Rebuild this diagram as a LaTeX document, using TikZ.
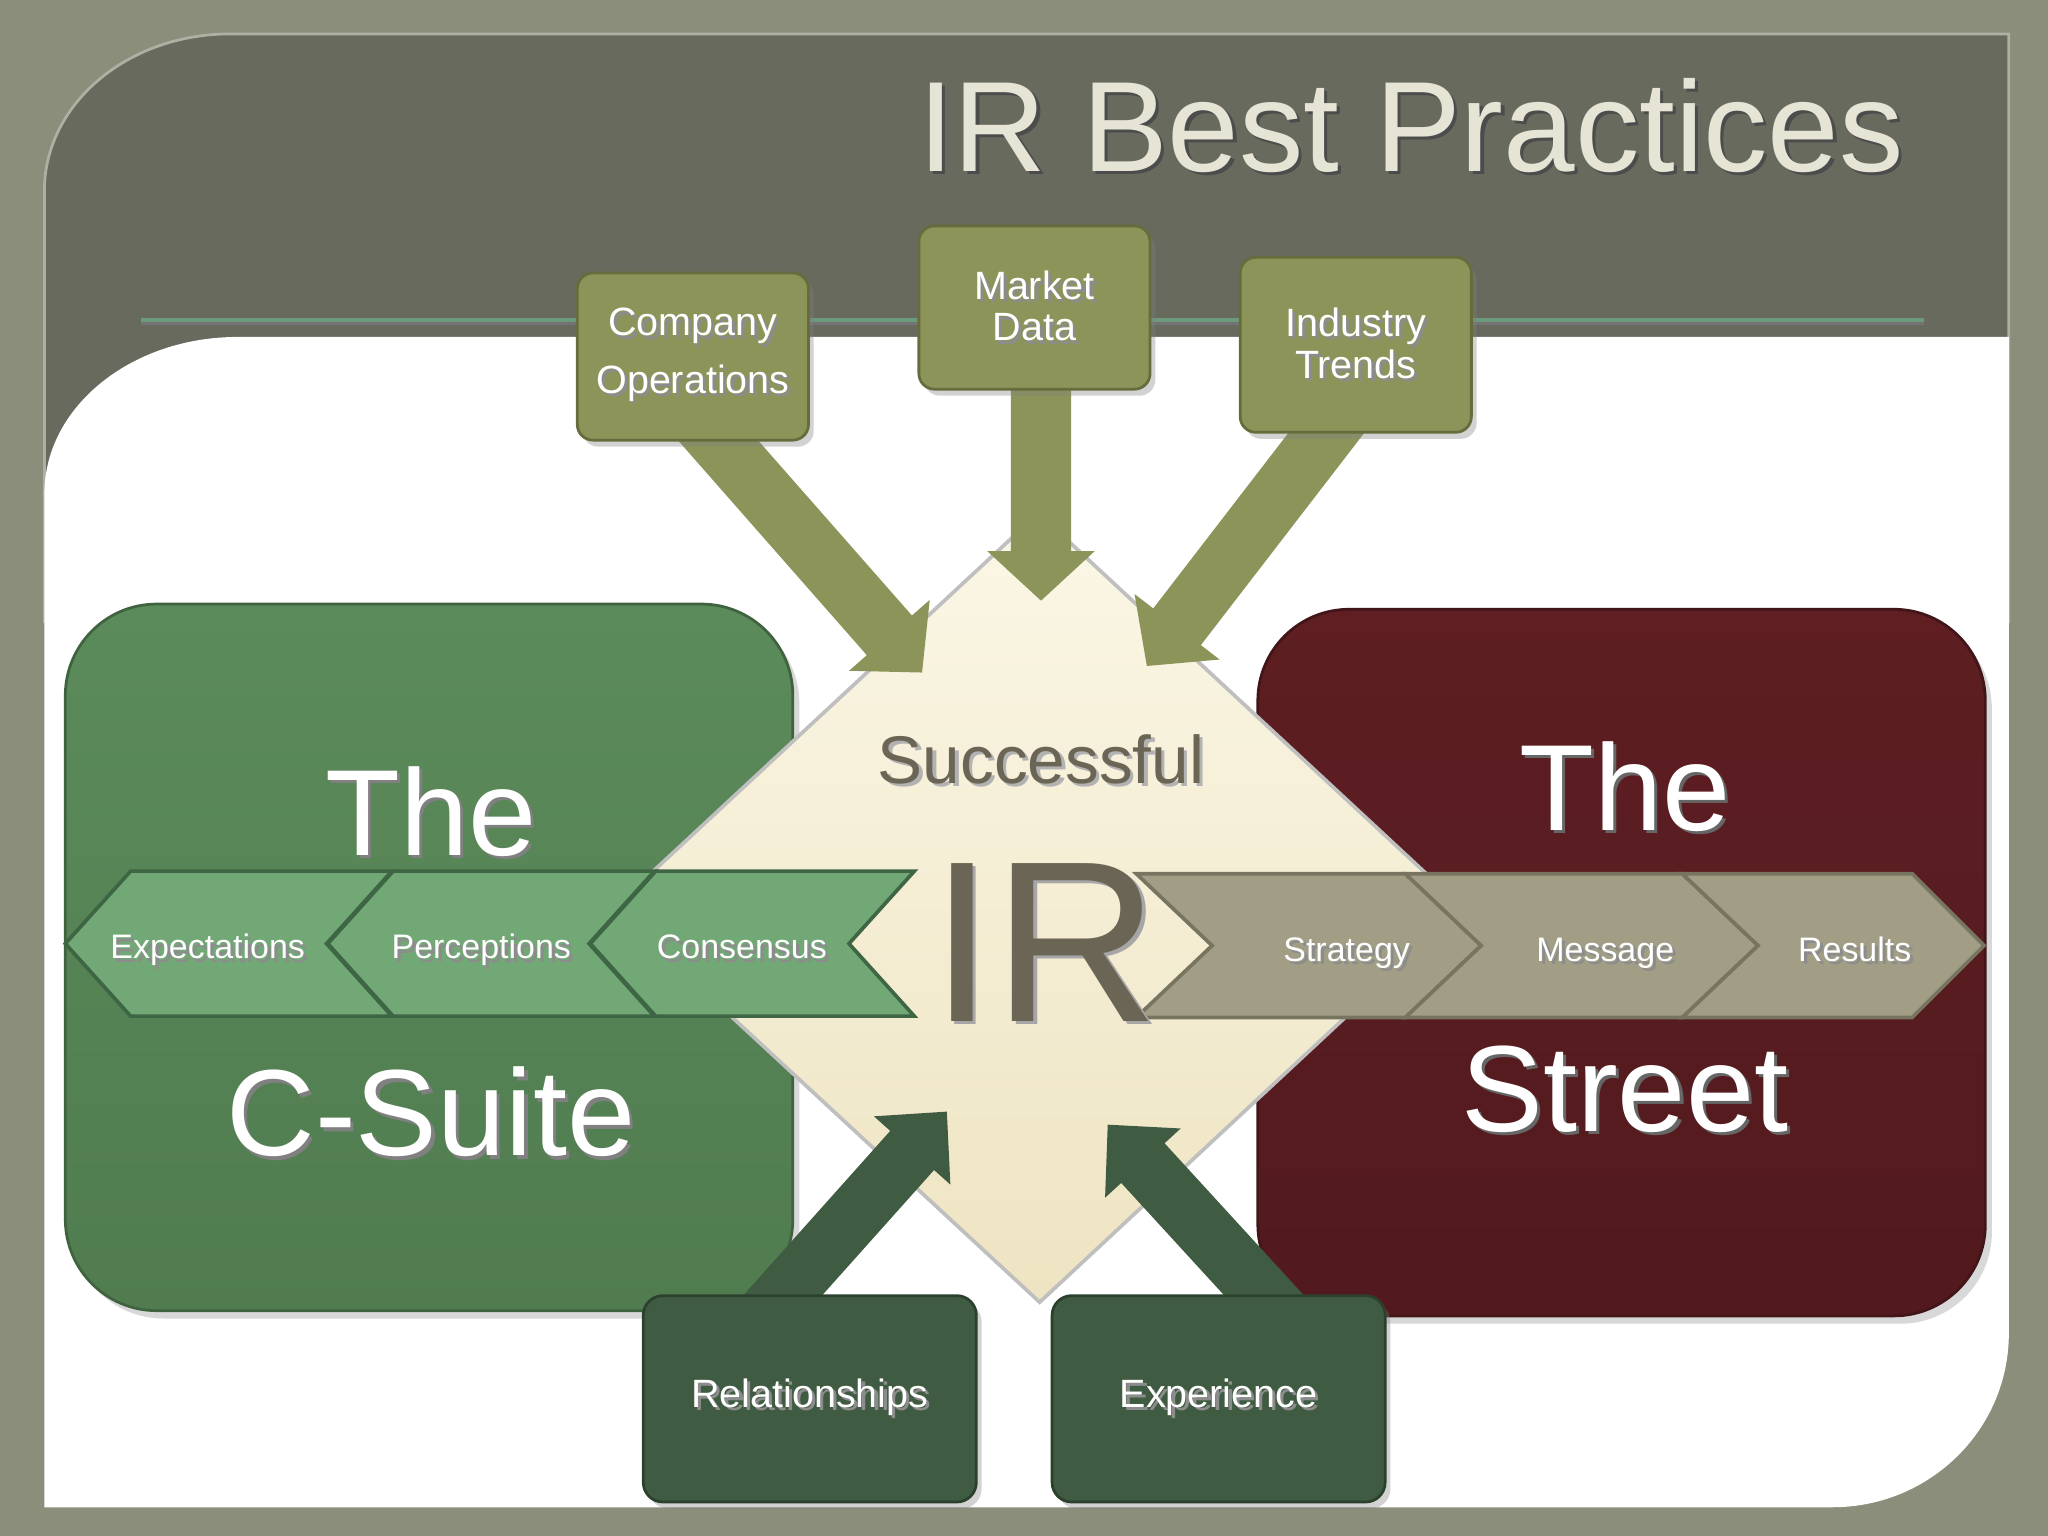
\documentclass[tikz,border=0pt]{standalone}
\usepackage{fontspec}
\setmainfont{Liberation Sans}
\usetikzlibrary{arrows.meta,shadows}

\definecolor{texture}{HTML}{8B8E7B}
\definecolor{header}{HTML}{686A5E}
\definecolor{titlecol}{HTML}{E6E4D4}
\definecolor{rulecol}{HTML}{6E9A7C}
\definecolor{olive}{HTML}{8C9459}
\definecolor{olivedk}{HTML}{666C3C}
\definecolor{suitetop}{HTML}{5C8B5B}
\definecolor{suitebot}{HTML}{507C4F}
\definecolor{streettop}{HTML}{5E1E22}
\definecolor{streetbot}{HTML}{521A1E}
\definecolor{cream}{HTML}{FBF7E6}
\definecolor{creamdk}{HTML}{EEE4C2}
\definecolor{irtext}{HTML}{6A6554}
\definecolor{chevgreen}{HTML}{72A876}
\definecolor{chevgreendk}{HTML}{3E6644}
\definecolor{chevgray}{HTML}{A29E86}
\definecolor{chevgraydk}{HTML}{77745F}
\definecolor{deepgreen}{HTML}{3F5B41}
\definecolor{deepgreendk}{HTML}{2B412E}

\newcommand{\shtxt}[2][black!45]{\leavevmode\rlap{\kern.7pt\raisebox{-.7pt}{\color{#1}#2}}#2}

\pgfdeclarelayer{back}
\pgfdeclarelayer{arr}
\pgfsetlayers{back,arr,main}

\tikzset{
	topbox/.style={rounded corners=0.12cm, fill=olive, draw=olivedk, line width=0.6pt, text=white, align=center, minimum width=1.77cm, drop shadow={opacity=0.35,shadow xshift=0.04cm,shadow yshift=-0.05cm}},
	botbox/.style={rounded corners=0.15cm, fill=deepgreen, draw=deepgreendk, line width=0.6pt, text=white, minimum width=2.55cm, minimum height=1.58cm, font=\fontsize{8.6}{10}\selectfont, drop shadow={opacity=0.35,shadow xshift=0.04cm,shadow yshift=-0.05cm}},
	bigbox/.style={rounded corners=0.7cm, minimum width=5.57cm, minimum height=5.41cm, line width=0.6pt, drop shadow={opacity=0.3,shadow xshift=0.05cm,shadow yshift=-0.06cm}},
	bigword/.style={text=white, anchor=base, font=\fontsize{26.7}{30}\selectfont},
	olivearr/.style={draw=olive, line width=0.46cm, -{Triangle[length=0.38cm,width=0.8cm]}},
	greenarr/.style={draw=deepgreen, line width=0.45cm, -{Triangle[length=0.4cm,width=0.76cm]}},
	lchev/.style={fill=chevgreen, draw=chevgreendk, line width=0.8pt},
	rchev/.style={fill=chevgray, draw=chevgraydk, line width=0.8pt},
	chevtext/.style={text=white, text height=0.72em, text depth=0.2em, font=\fontsize{7.4}{9}\selectfont},
}

\begin{document}
\begin{tikzpicture}
	\begin{pgfonlayer}{back}
		\fill[texture] (0,0) rectangle (15.68,11.76);
		\draw[fill=header, draw=texture!70!white, line width=0.6pt] (0.34,7) -- (0.34,10.30) arc[start angle=180, end angle=90, x radius=1.42, y radius=1.20] -- (15.38,11.50) -- (15.38,7) -- cycle;
		\fill[white] (0.34,0.22) -- (0.34,7.98) arc[start angle=180, end angle=90, x radius=1.48, y radius=1.20] -- (15.38,9.18) -- (15.38,1.55) arc[start angle=0, end angle=-90, x radius=1.35, y radius=1.33] -- cycle;
		\draw[black!55, line width=1.2pt] (1.08,9.29) -- (14.73,9.29);
		\draw[rulecol, line width=0.9pt] (1.08,9.31) -- (14.73,9.31);
		\node[anchor=base east, text=titlecol, font=\fontsize{28}{32}\selectfont] (title) at (14.70,10.45) {\shtxt[black!70]{IR Best Practices}};

		\node[bigbox, top color=suitetop, bottom color=suitebot, draw=suitebot!80!black] (suite) at (3.285,4.43) {};
		\node[bigbox, top color=streettop, bottom color=streetbot, draw=streetbot!80!black] (street) at (12.415,4.39) {};
		\node[bigword] (the1) at (3.30,5.21) {\shtxt[black!50]{The}};
		\node[bigword] (cs) at (3.30,2.91) {\shtxt[black!50]{C-Suite}};
		\node[bigword] (the2) at (12.44,5.40) {\shtxt[black!60]{The}};
		\node[bigword] (st) at (12.44,3.10) {\shtxt[black!60]{Street}};

		\draw[top color=cream, bottom color=creamdk, draw=black!25, line width=0.8pt] (7.95,7.83) -- (11.20,4.81) -- (7.96,1.79) -- (4.70,4.81) -- cycle;
		\node[text=irtext, anchor=base, font=\fontsize{14.7}{16}\selectfont] (succ) at (7.97,5.76) {\shtxt[black!30]{Successful}};

		\draw[lchev] (0.50,4.535) -- ++(0.5,0.555) -- ++(2,0) -- ++(-0.5,-0.555) -- ++(0.5,-0.555) -- ++(-2,0) -- cycle;
		\draw[lchev] (2.51,4.535) -- ++(0.5,0.555) -- ++(2,0) -- ++(-0.5,-0.555) -- ++(0.5,-0.555) -- ++(-2,0) -- cycle;
		\draw[lchev] (4.52,4.535) -- ++(0.5,0.555) -- ++(1.98,0) -- ++(-0.5,-0.555) -- ++(0.5,-0.555) -- ++(-1.98,0) -- cycle;
		\node[chevtext] (expect) at (1.59,4.51) {\shtxt{Expectations}};
		\node[chevtext] (percep) at (3.685,4.51) {\shtxt{Perceptions}};
		\node[chevtext] (consen) at (5.68,4.51) {\shtxt{Consensus}};

		\draw[rchev] (8.70,5.07) -- ++(0.58,-0.55) -- ++(-0.58,-0.55) -- (10.76,3.97) -- ++(0.58,0.55) -- ++(-0.58,0.55) -- cycle;
		\draw[rchev] (10.76,5.07) -- ++(0.58,-0.55) -- ++(-0.58,-0.55) -- (12.88,3.97) -- ++(0.58,0.55) -- ++(-0.58,0.55) -- cycle;
		\draw[rchev] (12.88,5.07) -- ++(0.58,-0.55) -- ++(-0.58,-0.55) -- (14.64,3.97) -- ++(0.55,0.55) -- ++(-0.55,0.55) -- cycle;
		\node[chevtext] (strat) at (10.31,4.49) {\shtxt{Strategy}};
		\node[chevtext] (msg) at (12.29,4.49) {\shtxt{Message}};
		\node[chevtext] (res) at (14.20,4.49) {\shtxt{Results}};

		\node[text=irtext, anchor=base, font=\fontsize{50}{56}\selectfont] (ir) at (8.00,3.94) {\shtxt[black!35]{IR}};
	\end{pgfonlayer}

	\node[topbox, minimum height=1.28cm, font=\fontsize{8.6}{12.5}\selectfont] (co) at (5.305,9.03) {\shtxt{Company}\\\shtxt{Operations}};
	\node[topbox, minimum height=1.25cm, font=\fontsize{8.6}{9.1}\selectfont] (md) at (7.92,9.405) {\shtxt{Market}\\\shtxt{Data}};
	\node[topbox, minimum height=1.34cm, font=\fontsize{8.6}{9.1}\selectfont] (it) at (10.38,9.12) {\shtxt{Industry}\\\shtxt{Trends}};
	\node[botbox] (rel) at (6.20,1.05) {\shtxt{Relationships}};
	\node[botbox] (exper) at (9.33,1.05) {\shtxt{Experience}};

	\coordinate (tipco) at (7.06,6.61);
	\coordinate (tipmd) at (7.97,7.16);
	\coordinate (tipit) at (8.78,6.66);
	\coordinate (tiprel) at (7.25,3.25);
	\coordinate (tipexp) at (8.48,3.15);

	\begin{pgfonlayer}{arr}
		\draw[olivearr, shorten <=-4mm] ([xshift=2mm]co.south) -- (tipco);
		\draw[olivearr, shorten <=-4mm] ([xshift=0.5mm]md.south) -- (tipmd);
		\draw[olivearr, shorten <=-4mm] ([xshift=-2.3mm]it.south) -- (tipit);
		\draw[greenarr, shorten <=-4mm] ([xshift=-2mm]rel.north) -- (tiprel);
		\draw[greenarr, shorten <=-4mm] ([xshift=3.4mm]exper.north) -- (tipexp);
	\end{pgfonlayer}
\end{tikzpicture}
\end{document}
